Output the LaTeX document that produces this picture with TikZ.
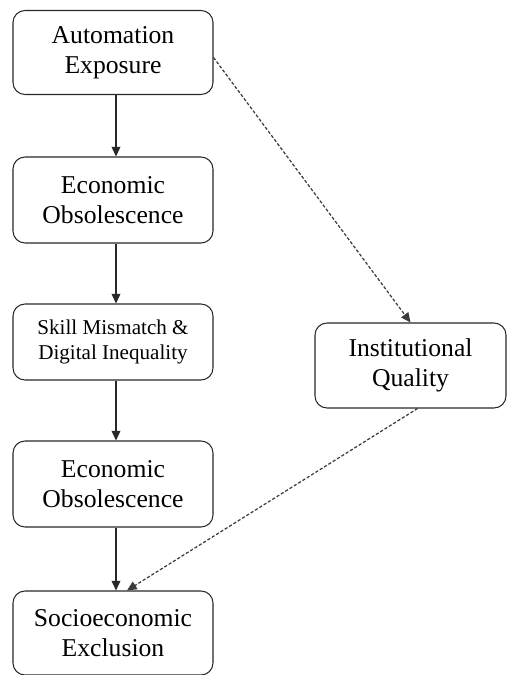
\documentclass[tikz,border=0pt]{standalone}
\usepackage{fontspec}
\setmainfont{Liberation Serif}
\usetikzlibrary{arrows.meta}
\definecolor{boxline}{RGB}{40,40,40}
\definecolor{linkgray}{RGB}{60,60,60}

\begin{document}
\begin{tikzpicture}[
    stage/.style={draw=boxline, line width=0.6pt, rounded corners=0.24cm, fill=white,
        align=center, inner sep=0pt, minimum width=4cm, minimum height=1.7cm,
        font=\fontsize{14.6}{17}\selectfont},
    link/.style={draw=boxline, line width=0.6pt, -{Triangle[length=5.5pt,width=5pt]}},
    hint/.style={draw=linkgray, line width=0.7pt, dash pattern=on 1.8pt off 1.1pt,
        -{Triangle[length=5.5pt,width=5pt]}}
]
    \useasboundingbox (0,0) rectangle (10.14,-13.5);

    % Main chain
    \node[stage, minimum height=1.68cm] (autoexp) at (2.26,-1.05) {Automation\\Exposure};
    \node[stage, minimum height=1.72cm] (econobs) at (2.26,-4.0) {Economic\\Obsolescence};
    \node[stage, minimum height=1.52cm, font=\fontsize{12}{14.6}\selectfont] (skillgap) at (2.26,-6.84) {Skill Mismatch \&\\Digital Inequality};
    \node[stage, minimum height=1.72cm] (econobs2) at (2.26,-9.68) {Economic\\Obsolescence};
    \node[stage, minimum height=1.68cm] (socexcl) at (2.26,-12.66) {Socioeconomic\\Exclusion};

    % Moderator
    \node[stage, minimum width=3.82cm] (instqual) at (8.21,-7.31) {Institutional\\Quality};

    % Solid links
    \draw[link] ([xshift=0.06cm]autoexp.south) -- ([xshift=0.06cm]econobs.north);
    \draw[link] ([xshift=0.06cm]econobs.south) -- ([xshift=0.06cm]skillgap.north);
    \draw[link] ([xshift=0.06cm]skillgap.south) -- ([xshift=0.06cm]econobs2.north);
    \draw[link] ([xshift=0.06cm]econobs2.south) -- ([xshift=0.06cm]socexcl.north);

    % Dashed links
    \draw[hint] ([yshift=-0.1cm]autoexp.east) -- (instqual.north);
    \draw[hint] ([xshift=0.14cm]instqual.south) -- ([xshift=0.28cm]socexcl.north);
\end{tikzpicture}
\end{document}
